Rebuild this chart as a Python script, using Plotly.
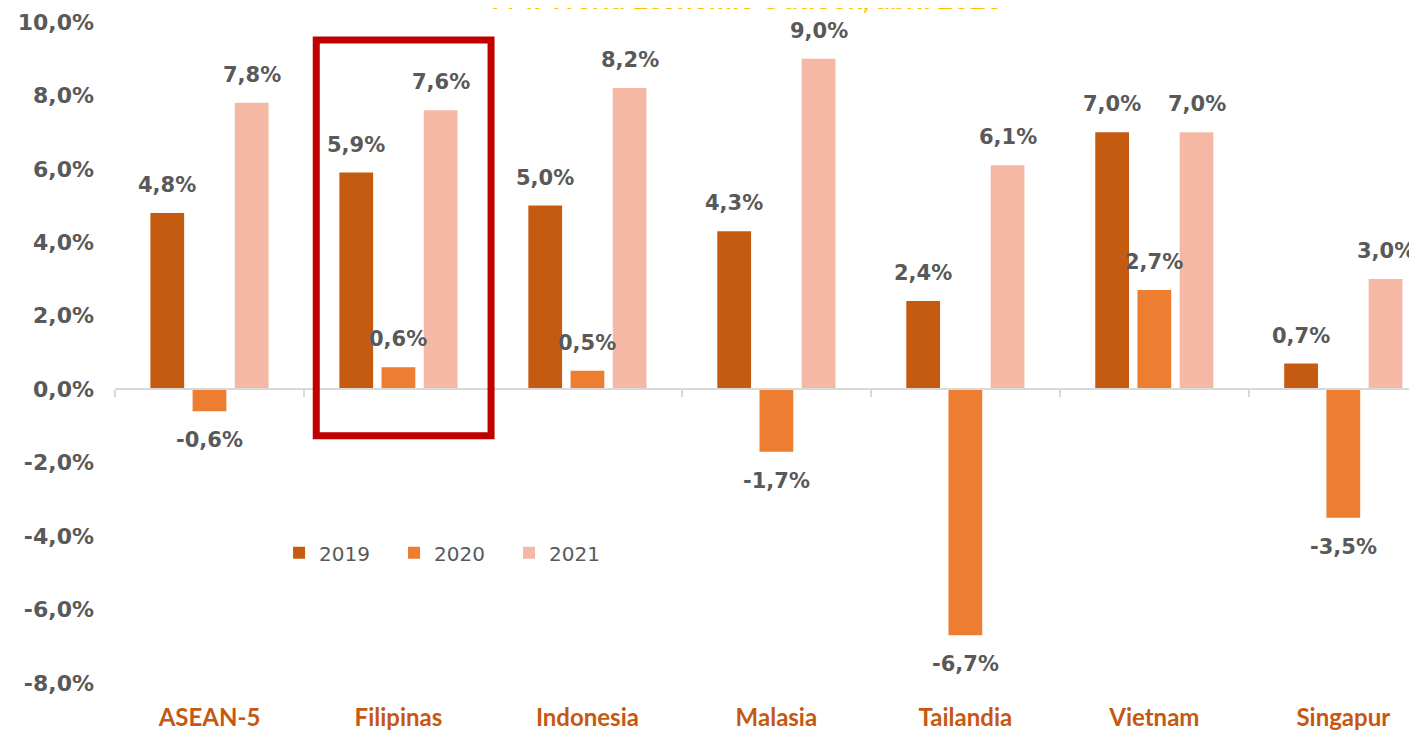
import plotly.graph_objects as go

# Data (growth %, IMF WEO April 2020)
paises = ["ASEAN-5", "Filipinas", "Indonesia", "Malasia", "Tailandia", "Vietnam", "Singapur"]
anios = ["2019", "2020", "2021"]
crec_2019 = [4.8, 5.9, 5.0, 4.3, 2.4, 7.0, 0.7]
crec_2020 = [-0.6, 0.6, 0.5, -1.7, -6.7, 2.7, -3.5]
crec_2021 = [7.8, 7.6, 8.2, 9.0, 6.1, 7.0, 3.0]
ticks_y = [-8, -6, -4, -2, 0, 2, 4, 6, 8, 10]
colores = ["#C55A11", "#ED7D31", "#F4B8A4"]

y_min, y_max = -8, 10
x_rng = [-0.5, 6.39]  # chart is cut at the right edge
W, H = 1409, 726
ml, mr, mt, mb = 107, 0, 14, 51
bargap = 0.33


def fmt(v):
    # Spanish style: comma decimal, plain hyphen
    return f"{v:.1f}%".replace(".", ",")


fig = go.Figure()

# one bar trace per year
series = [crec_2019, crec_2020, crec_2021]
for anio, vals, col in zip(anios, series, colores):
    fig.add_trace(go.Bar(
        x=paises, y=vals, name=anio,
        marker=dict(color=col, line=dict(width=0)),
        hoverinfo="x+y",
    ))

# data labels as annotations so they sit a bit further from the bar end (like Excel)
cat_px = (W - ml - mr) / (x_rng[1] - x_rng[0])
slot_px = cat_px * (1 - bargap) / len(anios)
for j, vals in enumerate(series):
    for pais, v in zip(paises, vals):
        fig.add_annotation(
            x=pais, y=v, xref="x", yref="y", showarrow=False,
            text=fmt(v),
            xshift=(j - 1) * slot_px, yshift=28 if v >= 0 else -29, yanchor="middle",
            font=dict(family="DejaVu Sans", size=21, color="#595959", weight="bold"),
        )

# helper trace so the zero-line axis gets drawn
fig.add_trace(go.Scatter(x=list(range(len(paises))), y=[0] * len(paises), mode="none",
                         xaxis="x2", yaxis="y", showlegend=False, hoverinfo="skip"))

# Layout
fig.update_layout(
    width=W, height=H,
    margin=dict(l=ml, r=mr, t=mt, b=mb),
    paper_bgcolor="white", plot_bgcolor="white",
    barmode="group", bargap=bargap, bargroupgap=0.2,
    showlegend=True,
    legend=dict(orientation="h", x=0.126, y=0.197, xanchor="left", yanchor="middle",
                entrywidth=70,
                font=dict(family="DejaVu Sans", size=20, color="#595959"),
                bgcolor="rgba(0,0,0,0)"),
)

# y axis: no grid, bold gray labels
fig.update_yaxes(
    range=[y_min, y_max], tickvals=ticks_y, ticktext=[fmt(t) for t in ticks_y],
    showgrid=False, zeroline=False, showline=False, ticks="",
    tickfont=dict(family="DejaVu Sans", size=22, color="#595959", weight="bold"),
    ticklabelstandoff=20,
)

# x axis at bottom carries the country labels
fig.update_xaxes(
    range=x_rng, showgrid=False, zeroline=False, showline=False, ticks="",
    tickfont=dict(family="Lato", size=24, color="#C65911", weight="bold"),
    ticklabelstandoff=18,
)

# second x axis sitting on y=0: gray line + ticks between categories
fig.update_layout(xaxis2=dict(
    overlaying="x", anchor="free", position=-y_min / (y_max - y_min),
    range=x_rng, tickvals=[i - 0.5 for i in range(len(paises) + 1)],
    showticklabels=False, ticks="outside", ticklen=7, tickcolor="#D9D9D9", tickwidth=1.5,
    showline=True, linecolor="#D9D9D9", linewidth=1.5, showgrid=False, zeroline=False,
))

# red frame around Filipinas
fig.add_shape(type="rect", xref="x", yref="y", x0=0.565, x1=1.49, y0=-1.27, y1=9.51,
              line=dict(color="#C00000", width=7), fillcolor="rgba(0,0,0,0)")

# title, mostly cut off at the top of the picture
fig.add_annotation(text="FMI World Economic Outlook, abril 2020", xref="paper", yref="paper",
                   x=0.485, y=1.0 + 5 / 661, xanchor="center", yanchor="bottom", showarrow=False,
                   font=dict(family="Lato", size=28, color="#FFC000", weight="bold"))

fig.write_html("out.html")
